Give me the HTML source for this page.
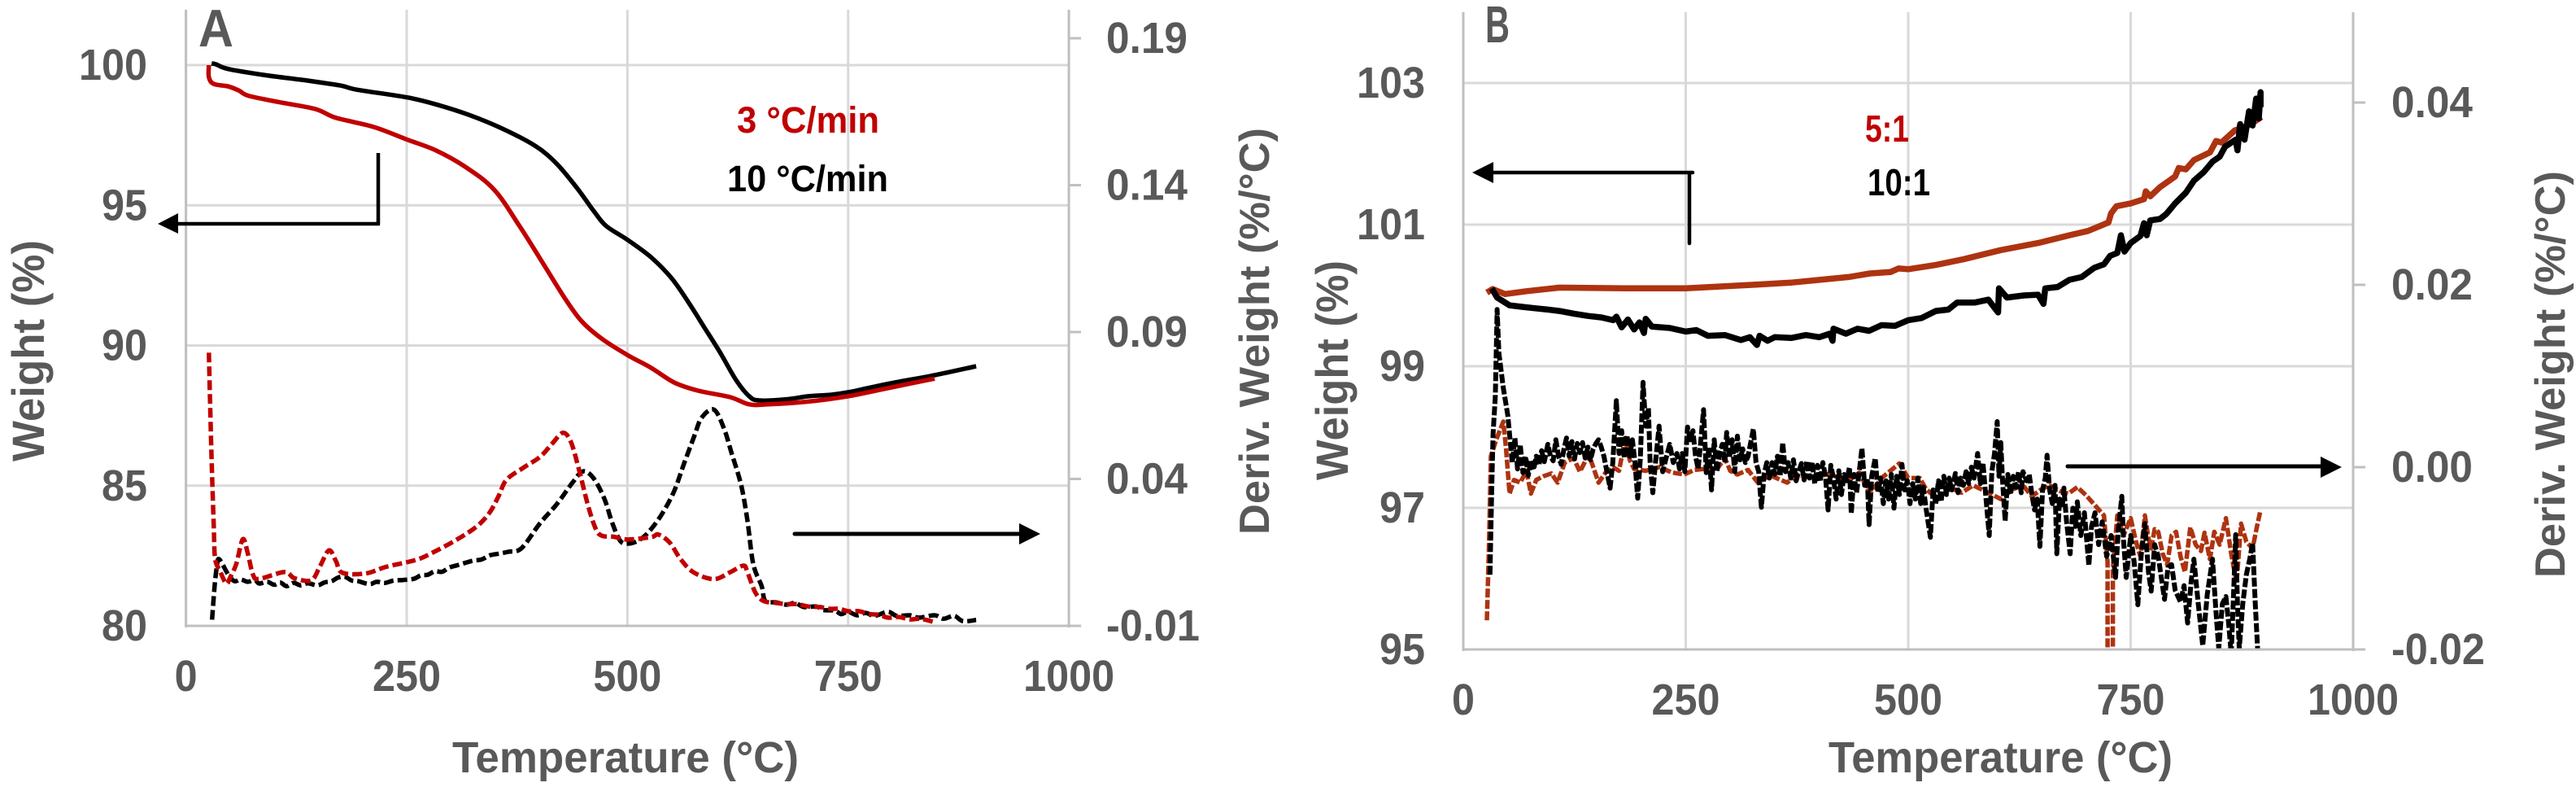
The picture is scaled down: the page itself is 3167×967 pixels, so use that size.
<!DOCTYPE html>
<html lang="en">
<head>
<meta charset="utf-8">
<title>TGA and derivative weight curves</title>
<style>
html,body{margin:0;padding:0;background:#fff;width:3167px;height:967px;overflow:hidden}
svg{display:block}
text{font-family:"Liberation Sans",sans-serif;font-weight:700;fill:#595959}
</style>
</head>
<body>
<svg id="chart" xmlns="http://www.w3.org/2000/svg" width="3167" height="967" viewBox="0 0 3167 967">
  <defs>
    <clipPath id="clip-a"><rect x="220" y="8" width="1100" height="764"/></clipPath>
    <clipPath id="clip-b"><rect x="1790" y="8" width="1110" height="790"/></clipPath>
  </defs>
  <g id="grid-layer"></g>
  <g id="series-layer"></g>
  <g id="axis-layer"></g>

  <text x="244" y="57" font-size="65" textLength="43" lengthAdjust="spacingAndGlyphs">A</text>
  <text x="1826" y="52" font-size="64" textLength="30" lengthAdjust="spacingAndGlyphs">B</text>

  <text transform="translate(54,567) rotate(-90)" font-size="56" textLength="272" lengthAdjust="spacingAndGlyphs">Weight (%)</text>
  <text transform="translate(1560,657) rotate(-90)" font-size="52" textLength="500" lengthAdjust="spacingAndGlyphs">Deriv. Weight (%/°C)</text>
  <text x="556" y="949" font-size="54" textLength="426" lengthAdjust="spacingAndGlyphs">Temperature (°C)</text>
  <text transform="translate(1657,590) rotate(-90)" font-size="56" textLength="270" lengthAdjust="spacingAndGlyphs">Weight (%)</text>
  <text transform="translate(3153,710) rotate(-90)" font-size="52" textLength="500" lengthAdjust="spacingAndGlyphs">Deriv. Weight (%/°C)</text>
  <text x="2248" y="949" font-size="54" textLength="423" lengthAdjust="spacingAndGlyphs">Temperature (°C)</text>

  <text x="906" y="163" font-size="45" style="fill:#C00000" textLength="175" lengthAdjust="spacingAndGlyphs">3 °C/min</text>
  <text x="894" y="235" font-size="45" style="fill:#000" textLength="198" lengthAdjust="spacingAndGlyphs">10 °C/min</text>
  <text x="2293" y="174" font-size="46" style="fill:#C00000" textLength="54" lengthAdjust="spacingAndGlyphs">5:1</text>
  <text x="2296" y="240" font-size="46" style="fill:#000" textLength="77" lengthAdjust="spacingAndGlyphs">10:1</text>

  <g>
    <path d="M465 188V276M467 275H215" fill="none" stroke="#000" stroke-width="4.5"/>
    <polygon points="194,275 219,262 219,287" fill="#000"/>
  </g>
  <g>
    <path d="M977 656H1255" fill="none" stroke="#000" stroke-width="5" stroke-linecap="round"/>
    <polygon points="1279,656 1253,643 1253,669" fill="#000"/>
  </g>
  <g>
    <path d="M2081 212H1833M2077 212V299" fill="none" stroke="#000" stroke-width="4.5" stroke-linecap="round"/>
    <polygon points="1810,212 1836,199 1836,225" fill="#000"/>
  </g>
  <g>
    <path d="M2542 573H2855" fill="none" stroke="#000" stroke-width="5" stroke-linecap="round"/>
    <polygon points="2879,574 2853,561 2853,587" fill="#000"/>
  </g>
</svg>
<script>
// ---- tick values ----
const tempTicks = [0, 250, 500, 750, 1000];
const weightTicksA = [80, 85, 90, 95, 100];
const derivTicksA = [-0.01, 0.04, 0.09, 0.14, 0.19];
const derivLabelsA = ["-0.01", "0.04", "0.09", "0.14", "0.19"];
const weightTicksB = [95, 97, 99, 101, 103];
const derivTicksB = [-0.02, 0, 0.02, 0.04];
const derivLabelsB = ["-0.02", "0.00", "0.02", "0.04"];

// ---- Panel A: [temperature, weight %] ----
const aWeightBlack = [[29,100.06],[34,100.03],[48,99.86],[90,99.64],[137,99.45],[175,99.27],[194,99.12],[250,98.85],[283,98.6],[321,98.22],[358,97.74],[396,97.11],[420,96.48],[443,95.61],[462,94.79],[476,94.26],[500,93.77],[527,93.14],[550,92.4],[570,91.5],[586,90.7],[605,89.75],[623,88.77],[638,88.19],[649,88.04],[680,88.08],[705,88.19],[730,88.24],[750,88.33],[775,88.5],[803,88.68],[848,88.94],[895,89.26]];
const aWeightRed = [[26,100],[26,99.57],[31.5,99.33],[48,99.24],[60,99.09],[71.5,98.9],[109,98.66],[147,98.43],[170,98.12],[213,97.79],[250,97.35],[283,96.96],[316,96.38],[349,95.56],[377,94.3],[405,92.9],[429,91.69],[448,90.87],[471,90.24],[500,89.66],[527,89.2],[553,88.68],[580,88.39],[616,88.16],[638,87.9],[660,87.9],[705,88.0],[750,88.19],[795,88.48],[848,88.82]];

// ---- Panel A: [temperature, derivative weight] ----
const aDerivBlack = [[29.6,-0.0079],[32.5,0.0037],[35,0.0101],[37.6,0.0127],[48,0.0074],[55,0.0052],[62,0.0058],[70,0.005],[78,0.0056],[83,0.0044],[92,0.005],[100,0.004],[107,0.0047],[114,0.0035],[122,0.0046],[130,0.0038],[138,0.0045],[149,0.0038],[157,0.0048],[165,0.0052],[172,0.0064],[180,0.0067],[188,0.0054],[195,0.0052],[208,0.0042],[216,0.005],[225,0.0046],[235,0.0054],[245.5,0.0056],[258,0.006],[266,0.0072],[274,0.0074],[282,0.0086],[290,0.0084],[298,0.0098],[307,0.0106],[316,0.0114],[325,0.0122],[335,0.0126],[344,0.014],[355,0.0146],[365,0.0152],[380,0.0164],[401,0.0249],[420,0.0314],[438,0.0388],[450,0.0426],[462,0.0401],[474,0.0332],[483,0.0249],[492,0.0189],[502,0.018],[515,0.0195],[527,0.023],[540,0.0285],[553,0.0359],[564,0.0451],[575.5,0.0544],[584,0.0608],[598,0.0636],[609.5,0.0571],[618,0.0488],[629,0.0377],[636,0.0257],[642.6,0.011],[652,0.0036],[656,-0.0015],[668,-0.002],[680,-0.0028],[690,-0.0022],[700,-0.0036],[714,-0.0034],[722,-0.0046],[735,-0.0048],[742,-0.006],[750,-0.0052],[760,-0.0064],[770,-0.0056],[780,-0.0066],[795,-0.0052],[805,-0.0066],[820,-0.0064],[830,-0.0072],[848,-0.0064],[858,-0.0076],[870,-0.0066],[880,-0.0084],[895,-0.008]];
const aDerivRed = [[26,0.083],[27,0.0701],[29,0.047],[31.5,0.024],[33,0.0129],[38.5,0.0087],[45.6,0.0044],[50,0.0064],[57,0.0111],[64.4,0.0195],[70,0.0147],[76,0.0074],[83,0.006],[111.5,0.0083],[123,0.0062],[142,0.0055],[151.5,0.0101],[162,0.0157],[170,0.012],[177,0.0081],[203,0.0078],[227,0.0101],[260,0.0124],[278,0.0147],[307,0.0194],[330,0.024],[344,0.0286],[354,0.0341],[363,0.0397],[382,0.0438],[401,0.0475],[415,0.0521],[427,0.0557],[436,0.0526],[445,0.0434],[455,0.0314],[464,0.0231],[471,0.0207],[485,0.0203],[500,0.0194],[527,0.0202],[535,0.0211],[548,0.0183],[560,0.0128],[575,0.0082],[598,0.0059],[616,0.0082],[631.5,0.0105],[636,0.0082],[645,0.0013],[654,-0.0015],[668,-0.0022],[680,-0.0026],[692,-0.0026],[705,-0.0034],[718,-0.0036],[730,-0.0042],[740,-0.0042],[750,-0.005],[762,-0.005],[775,-0.006],[785,-0.0062],[795,-0.0072],[808,-0.007],[820,-0.0078],[832,-0.0076],[846,-0.0086]];

// ---- Panel B: [temperature, weight %] ----
const bWeightRed = [[26.5,100.04],[33,100.09],[47,100.02],[71,100.06],[108,100.11],[182,100.1],[250,100.1],[326.5,100.15],[368,100.18],[433,100.26],[457,100.31],[480,100.33],[489,100.38],[500,100.37],[531,100.43],[562,100.51],[604,100.64],[646,100.74],[681,100.85],[702,100.91],[725,101.03],[728,101.16],[734,101.26],[750,101.3],[765,101.36],[767,101.47],[772,101.4],[783,101.53],[800,101.68],[804,101.8],[812,101.78],[821,101.91],[839,102.02],[846,102.18],[852,102.16],[867,102.33],[884,102.41],[897,102.52]];
const bWeightBlack = [[32,100.1],[38,99.97],[52,99.86],[65,99.84],[80,99.82],[95,99.8],[108,99.78],[125,99.74],[140,99.71],[155,99.69],[168.5,99.65],[172,99.7],[178,99.55],[185,99.66],[192,99.52],[198,99.62],[203,99.47],[205,99.67],[212,99.56],[232,99.54],[250,99.49],[262,99.51],[275,99.43],[294,99.44],[312,99.37],[322,99.41],[330,99.3],[333,99.43],[342,99.36],[350,99.41],[369,99.4],[385,99.44],[400,99.41],[412,99.46],[415,99.36],[416,99.53],[430,99.46],[443,99.53],[456,99.5],[470,99.58],[485,99.57],[500,99.65],[515,99.68],[531,99.78],[545,99.8],[555,99.9],[575,99.9],[590,99.94],[601,99.76],[602,100.1],[611,99.97],[630,100.0],[646,100.01],[652,99.88],[654,100.1],[668,100.12],[681,100.22],[695,100.26],[709,100.39],[720,100.44],[727,100.56],[735,100.6],[739,100.85],[743,100.62],[750,100.74],[761,100.84],[765,101.02],[768,100.85],[772,101.06],[783,101.08],[790,101.15],[800,101.3],[812,101.45],[821,101.62],[832,101.74],[842,101.89],[850,101.96],[856,102.1],[868,102.2],[870,102.05],[873,102.42],[878,102.2],[883,102.6],[887,102.4],[891,102.78],[894,102.5],[896,102.87],[896,102.66]];

// ---- Panel B: [temperature, derivative weight] ----
const bDerivRed = [[26.5,-0.0168],[29,-0.0083],[31,0.0012],[37,0.003],[45,0.005],[48,0.0021],[52,-0.0029],[57,-0.0014],[64,-0.0017],[71,-0.0004],[76,-0.0029],[82,-0.0014],[90,-0.001],[99,-0.0007],[106,-0.0017],[114,0.0005],[124,0.001],[131,-0.0005],[141,0.0014],[152,-0.0017],[160,-0.0006],[168,0],[175,-0.0004],[182,0.0032],[187,0.0008],[192,-0.0002],[205,-0.0004],[220,0],[235,-0.0006],[248,-0.0008],[260,-0.0003],[271,-0.0002],[283,-0.0005],[294,0.001],[300,-0.0004],[308,-0.0008],[320,-0.0003],[331,-0.0017],[345,-0.0009],[364,-0.0017],[375,-0.0008],[387,-0.0011],[410,-0.0008],[434,-0.0014],[445,-0.0006],[457,-0.0029],[470,-0.0012],[490,0.0004],[500,-0.0012],[513,-0.0012],[520,-0.0024],[533,-0.0035],[548,-0.0023],[560,-0.0028],[573,-0.002],[590,-0.0028],[604,-0.0035],[618,-0.0024],[629,-0.002],[639,-0.0032],[650,-0.0024],[659,-0.002],[670,-0.0026],[680,-0.0029],[690,-0.0022],[700,-0.0031],[710,-0.0042],[720,-0.0053],[724,-0.0104],[724,-0.0202],[730,-0.0202],[730,-0.0112],[735,-0.0053],[742,-0.0075],[750,-0.0056],[756,-0.0082],[761,-0.0098],[766,-0.0053],[770,-0.0078],[773,-0.0089],[777,-0.0068],[781,-0.0071],[786,-0.0095],[791,-0.0107],[796,-0.0075],[801,-0.0071],[806,-0.0098],[811,-0.0115],[817,-0.0066],[823,-0.0085],[829,-0.0092],[833,-0.0072],[839,-0.0101],[844,-0.0071],[850,-0.0085],[857,-0.0056],[863,-0.0095],[869,-0.0127],[874,-0.0062],[880,-0.0082],[887,-0.0089],[892,-0.0065],[896,-0.0047]];
const bDerivBlack = [[30,-0.0118],[32,-0.0023],[33.5,0.0036],[36,0.0078],[38,0.0173],[40,0.0125],[45,0.0087],[50,0.0057],[55,0.0005],[58,0.0032],[61,-0.0002],[64,0.0025],[67,-0.0006],[70,0.0012],[73,-0.0009],[76,0.0008],[79,-0.0003],[82,0.0012],[85,0.0002],[88,0.0018],[91,0.0006],[95,0.0025],[98,0.0012],[101,0.0007],[104,0.003],[107,0.0012],[110,0.0003],[113,0.0019],[116,0.0032],[119,0.0012],[122,0.0028],[125,0.0009],[128,0.0026],[131,0.0016],[134,0.0027],[137,0.001],[140,0.0022],[143,0.0008],[146,0.002],[149,0.0026],[152,0.003],[155,0.0022],[158,0.0012],[165,-0.0023],[168,0.0005],[172,0.0073],[175,0.0015],[178,0.004],[181,0.001],[184,0.0035],[187,0.0012],[190,0.003],[193,0.0005],[196,-0.0034],[199,0.001],[202,0.0093],[205,0.0045],[208,0.0065],[210,0.0005],[213,-0.0028],[216,0.0005],[220,0.0045],[224,-0.0005],[228,0.001],[232,0.0025],[236,0.0005],[240,0.0015],[243,-0.0002],[246,0.0015],[249,-0.0005],[252,0.0044],[255,0.003],[258,0.004],[261,0.0012],[264,-0.0002],[267,0.003],[270,0.0063],[273,-0.0006],[276,0.0022],[279,-0.0025],[282,0.003],[285,-0.0005],[288,0.0015],[291,0.0025],[294,0.0005],[296,0.0038],[299,0.001],[302,0.003],[305,-0.0005],[308,0.0034],[311,0.0008],[314,0.002],[317,0.0005],[320,0.0012],[326,0.0042],[329,0.0005],[332,-0.0005],[335,-0.0044],[338,-0.0008],[341,0.0005],[344,-0.0012],[347,0.0005],[350,-0.0008],[353,0.0012],[356,-0.001],[359,0.0027],[362,-0.0005],[365,0.0005],[368,-0.0012],[371,0.0008],[374,-0.0015],[377,-0.0005],[380,0.0004],[383,-0.0014],[386,0.0007],[389,-0.0012],[392,0.0006],[395,-0.0018],[398,0.0002],[401,-0.0016],[404,0.0005],[407,-0.001],[410,-0.0047],[413,0.0002],[416,-0.0012],[419,-0.0035],[422,-0.0004],[425,-0.003],[428,-0.0008],[431,-0.0015],[434,0],[436,-0.0051],[439,-0.0008],[442,-0.0028],[445,-0.0005],[448,0.0021],[451,-0.002],[454,-0.0012],[456,-0.0063],[459,-0.001],[463,0.001],[466,-0.0028],[469,-0.0012],[472,-0.004],[475,-0.0015],[478,-0.0035],[481,-0.0008],[484,-0.0045],[487,-0.001],[490,-0.003],[493,0.0003],[496,-0.0025],[499,-0.0015],[502,-0.004],[505,-0.0018],[508,-0.0035],[511,-0.0012],[514,-0.004],[517,-0.0022],[520,-0.0045],[525,-0.0077],[528,-0.0025],[531,-0.004],[534,-0.0015],[537,-0.0038],[540,-0.001],[543,-0.003],[546,-0.0012],[549,-0.0025],[553,-0.0007],[556,-0.0028],[559,-0.0012],[562,-0.002],[565,-0.0005],[568,-0.0018],[571,0],[574,-0.0012],[578,0.0015],[581,-0.0018],[584,0.0005],[587,-0.003],[591,-0.0075],[594,-0.0005],[597,0.0015],[600,0.005],[602,-0.001],[604,0.0027],[606,-0.0015],[609,-0.0059],[612,-0.0008],[615,-0.003],[618,-0.001],[621,-0.0022],[624,-0.0005],[627,-0.0028],[629,-0.0005],[633,-0.0015],[636,-0.0008],[639,-0.003],[642,-0.0047],[645,-0.0035],[648,-0.0087],[651,-0.0025],[654,-0.0012],[656,0.0013],[659,-0.0025],[662,-0.004],[665,-0.002],[667,-0.0095],[670,-0.0035],[673,-0.0045],[675,-0.0023],[678,-0.006],[682,-0.0095],[685,-0.0045],[688,-0.0065],[690,-0.0038],[694,-0.0075],[698,-0.005],[703,-0.0108],[706,-0.0065],[710,-0.005],[714,-0.0085],[718,-0.006],[723,-0.0098],[728,-0.0075],[733,-0.0121],[736,-0.007],[740,-0.0032],[742,-0.008],[745,-0.0121],[750,-0.0075],[754,-0.0105],[758,-0.0151],[762,-0.0095],[766,-0.0062],[770,-0.0115],[773,-0.0136],[777,-0.0085],[781,-0.0098],[785,-0.0125],[788,-0.0145],[792,-0.011],[796,-0.0107],[800,-0.0135],[806,-0.0148],[810,-0.013],[814,-0.0171],[818,-0.0125],[821,-0.0101],[826,-0.015],[831,-0.0196],[836,-0.014],[842,-0.0101],[846,-0.016],[849,-0.0199],[853,-0.015],[857,-0.0142],[860,-0.017],[863,-0.0205],[866,-0.013],[868,-0.0074],[870,-0.015],[872,-0.0199],[876,-0.015],[880,-0.0118],[884,-0.01],[887,-0.0083],[890,-0.015],[893,-0.0205]];

// ---- axis functions ----
const xA = t => 228.6 + t * 1.0855;
const yAw = w => 769 - (w - 80) * 34.45;
const yAd = d => 769 - (d + 0.01) * 3610;
const xB = t => 1799 + t * 1.094;
const yBw = w => 798 - (w - 95) * 87;
const yBd = d => 574 - d * 11200;

const NS = 'http://www.w3.org/2000/svg';
const gridLayer = document.getElementById('grid-layer');
const seriesLayer = document.getElementById('series-layer');
const axisLayer = document.getElementById('axis-layer');

function rule(parent, name, x1, y1, x2, y2, color, width) {
  const el = document.createElementNS(NS, 'line');
  
  
  el.setAttribute('x1', x1);
  el.setAttribute('y1', y1);
  el.setAttribute('x2', x2);
  el.setAttribute('y2', y2);
  el.setAttribute('stroke', color);
  el.setAttribute('stroke-width', width);
  parent.appendChild(el);
}

function labelLength(s) {
  let n = 0;
  for (const c of s) n += c === '.' ? 16 : c === '-' ? 15 : 28;
  return n;
}

function label(name, s, x, y, anchor) {
  const el = document.createElementNS(NS, 'text');
  
  
  el.setAttribute('x', x);
  el.setAttribute('y', y);
  el.setAttribute('font-size', 54);
  el.setAttribute('text-anchor', anchor);
  el.setAttribute('textLength', labelLength(s));
  el.setAttribute('lengthAdjust', 'spacingAndGlyphs');
  el.textContent = s;
  axisLayer.appendChild(el);
}

function straightPath(p) {
  return p.map((q, i) => (i ? 'L' : 'M') + q[0].toFixed(1) + ' ' + q[1].toFixed(1)).join('');
}

function smoothPath(p) {
  let d = 'M' + p[0][0].toFixed(1) + ' ' + p[0][1].toFixed(1);
  for (let i = 0; i < p.length - 1; i++) {
    const a = p[Math.max(i - 1, 0)], b = p[i], c = p[i + 1], e = p[Math.min(i + 2, p.length - 1)];
    d += 'C' + (b[0] + (c[0] - a[0]) / 6).toFixed(1) + ' ' + (b[1] + (c[1] - a[1]) / 6).toFixed(1) + ' ' +
      (c[0] - (e[0] - b[0]) / 6).toFixed(1) + ' ' + (c[1] - (e[1] - b[1]) / 6).toFixed(1) + ' ' +
      c[0].toFixed(1) + ' ' + c[1].toFixed(1);
  }
  return d;
}

function curve(name, pts, xf, yf, color, width, dash, clip, smooth) {
  const el = document.createElementNS(NS, 'path');
  const screen = pts.map(p => [xf(p[0]), yf(p[1])]);
  
  
  el.setAttribute('d', smooth ? smoothPath(screen) : straightPath(screen));
  el.setAttribute('fill', 'none');
  el.setAttribute('stroke', color);
  el.setAttribute('stroke-width', width);
  el.setAttribute('stroke-linejoin', 'round');
  if (dash) el.setAttribute('stroke-dasharray', dash);
  el.setAttribute('clip-path', 'url(#' + clip + ')');
  seriesLayer.appendChild(el);
}

const GRID = '#d9d9d9', AXIS = '#bfbfbf';

// Panel A frame
tempTicks.slice(1, 4).forEach(t => {
  rule(gridLayer, 'panel-a-x-gridline', xA(t), 12, xA(t), 769, GRID, 3);
});
weightTicksA.slice(1).forEach(w => {
  rule(gridLayer, 'panel-a-y-gridline', xA(0), yAw(w), xA(1000), yAw(w), GRID, 3);
});
rule(axisLayer, 'panel-a-left-axis', xA(0), 12, xA(0), 771, AXIS, 3);
rule(axisLayer, 'panel-a-right-axis', xA(1000), 12, xA(1000), 771, AXIS, 3);
rule(axisLayer, 'panel-a-x-axis', xA(0), 769, xA(1000) + 15, 769, AXIS, 3);
tempTicks.forEach(t => {
  label('panel-a-x-tick-label', String(t), xA(t), 849, 'middle');
});
weightTicksA.forEach(w => {
  label('panel-a-weight-tick-label', String(w), 181, yAw(w) + 18, 'end');
});
derivTicksA.forEach((d, i) => {
  rule(axisLayer, 'panel-a-deriv-tick', xA(1000), yAd(d), xA(1000) + 15, yAd(d), AXIS, 3);
  label('panel-a-deriv-tick-label', derivLabelsA[i], 1360, yAd(d) + 18, 'start');
});

// Panel B frame
tempTicks.slice(1, 4).forEach(t => {
  rule(gridLayer, 'panel-b-x-gridline', xB(t), 15, xB(t), 798, GRID, 3);
});
weightTicksB.slice(1).forEach(w => {
  rule(gridLayer, 'panel-b-y-gridline', xB(0), yBw(w), xB(1000), yBw(w), GRID, 3);
});
rule(axisLayer, 'panel-b-left-axis', xB(0), 15, xB(0), 800, AXIS, 3);
rule(axisLayer, 'panel-b-right-axis', xB(1000), 15, xB(1000), 800, AXIS, 3);
rule(axisLayer, 'panel-b-x-axis', xB(0), 798, xB(1000) + 15, 798, AXIS, 3);
tempTicks.forEach(t => {
  label('panel-b-x-tick-label', String(t), xB(t), 878, 'middle');
});
weightTicksB.forEach(w => {
  label('panel-b-weight-tick-label', String(w), 1752, yBw(w) + 18, 'end');
});
derivTicksB.forEach((d, i) => {
  rule(axisLayer, 'panel-b-deriv-tick', xB(1000), yBd(d), xB(1000) + 15, yBd(d), AXIS, 3);
  label('panel-b-deriv-tick-label', derivLabelsB[i], 2940, yBd(d) + 18, 'start');
});

// Series
const RED_A = '#C00000', RED_B = '#AE3310', BLACK = '#000000';
curve('panel-a-weight-10-c-per-min', aWeightBlack, xA, yAw, BLACK, 5.5, null, 'clip-a', true);
curve('panel-a-weight-3-c-per-min', aWeightRed, xA, yAw, RED_A, 5.5, null, 'clip-a', true);
curve('panel-a-deriv-10-c-per-min', aDerivBlack, xA, yAd, BLACK, 5.5, '12 5', 'clip-a', true);
curve('panel-a-deriv-3-c-per-min', aDerivRed, xA, yAd, RED_A, 5.5, '12 5', 'clip-a', true);
curve('panel-b-weight-5-to-1', bWeightRed, xB, yBw, RED_B, 7.5, null, 'clip-b', false);
curve('panel-b-weight-10-to-1', bWeightBlack, xB, yBw, BLACK, 7.5, null, 'clip-b', false);
curve('panel-b-deriv-5-to-1', bDerivRed, xB, yBd, RED_B, 5.5, '11 3', 'clip-b', false);
curve('panel-b-deriv-10-to-1', bDerivBlack, xB, yBd, BLACK, 6, '11 3', 'clip-b', false);
</script>
</body>
</html>
